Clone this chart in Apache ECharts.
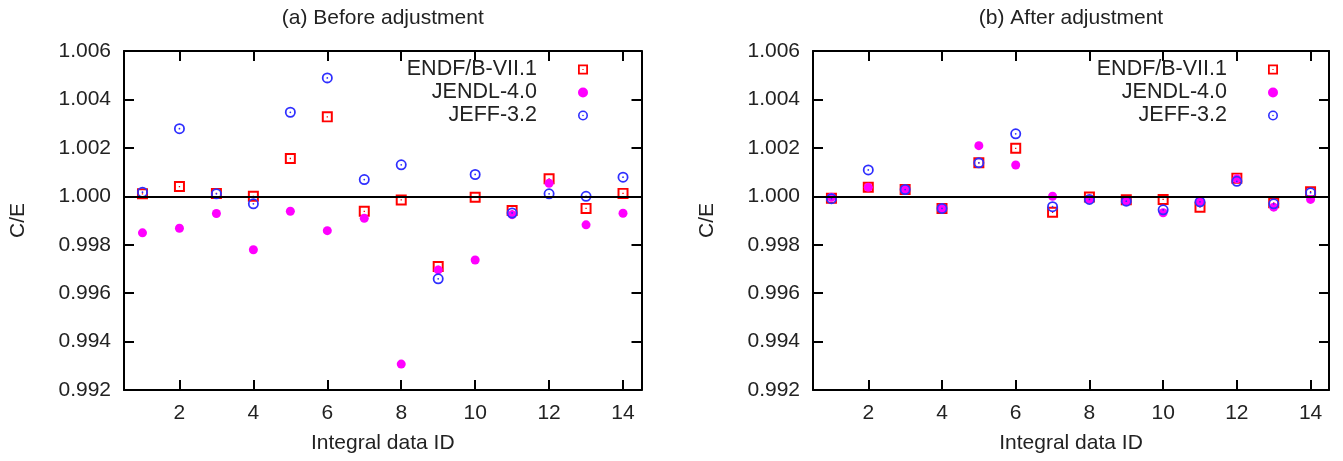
<!DOCTYPE html>
<html>
<head>
<meta charset="utf-8">
<title>C/E before and after adjustment</title>
<script src="https://cdn.jsdelivr.net/npm/echarts@6/dist/echarts.min.js"></script>
<style>
  html, body { margin: 0; padding: 0; background: #fff; }
  #main { width: 1343px; height: 461px; }
</style>
</head>
<body>
<div id="main"></div>
<script>
// integral data IDs
const ids = [1, 2, 3, 4, 5, 6, 7, 8, 9, 10, 11, 12, 13, 14]
const xTicks = [2, 4, 6, 8, 10, 12, 14]
const yTicks = [0.992, 0.994, 0.996, 0.998, 1.000, 1.002, 1.004, 1.006]
const libs = ['ENDF/B-VII.1', 'JENDL-4.0', 'JEFF-3.2']
const panelTitles = ['(a) Before adjustment', '(b) After adjustment']

// (a) before adjustment
const endfBefore = [1.0001, 1.0004, 1.00012, 1.0000, 1.00156, 1.00328, 0.99938, 0.99985, 0.99710, 0.99996, 0.99941, 1.00072, 0.99950, 1.00012]
const jendlBefore = [0.99849, 0.99868, 0.99929, 0.99779, 0.99938, 0.99858, 0.99909, 0.99307, 0.99696, 0.99737, 0.99924, 1.00054, 0.99882, 0.99930]
const jeffBefore = [1.00017, 1.00279, 1.0001, 0.99969, 1.00347, 1.00489, 1.00069, 1.0013, 0.99659, 1.0009, 0.99931, 1.0001, 1.0000, 1.00079]

// (b) after adjustment
const endfAfter = [0.99992, 1.00037, 1.00028, 0.99950, 1.00138, 1.00198, 0.99934, 0.99997, 0.99986, 0.99987, 0.99955, 1.00075, 0.99973, 1.00019]
const jendlAfter = [0.99996, 1.00037, 1.00028, 0.99950, 1.00209, 1.00129, 1.0000, 0.99988, 0.99979, 0.99932, 0.99978, 1.00072, 0.99955, 0.99987]
const jeffAfter = [0.99990, 1.00109, 1.00028, 0.99950, 1.00138, 1.00258, 0.99957, 0.99987, 0.99980, 0.99944, 0.99977, 1.00062, 0.99969, 1.00015]

const FONT = 'Liberation Sans, Arial, sans-serif'
const TXT = '#222'

// open square / ring with a dot in the middle (gnuplot style points)
const squareDot = 'path://M0,0L10,0L10,10L0,10Z M1.8,1.8L1.8,8.2L8.2,8.2L8.2,1.8Z M4.4,4.4L5.6,4.4L5.6,5.6L4.4,5.6Z'
const ringDot = 'path://M5,0A5,5,0,1,1,5,10A5,5,0,1,1,5,0Z M5,1.6A3.4,3.4,0,1,0,5,8.4A3.4,3.4,0,1,0,5,1.6Z M5,4.2A0.8,0.8,0,1,1,5,5.8A0.8,0.8,0,1,1,5,4.2Z'

const pts = vals => ids.map((id, i) => [id, vals[i]])

const grids = [
  { left: 124, width: 517.5, top: 51, height: 339 },
  { left: 813, width: 516, top: 51, height: 339 }
]

function xAxes(g) {
  const common = {
    type: 'value', gridIndex: g, min: 0.5, max: 14.5,
    axisLine: { show: true, onZero: false, lineStyle: { color: '#000', width: 2 } },
    axisTick: { inside: true, length: 10, customValues: xTicks, lineStyle: { color: '#000', width: 2 } },
    splitLine: { show: false }
  }
  return [
    Object.assign({}, common, {
      position: 'bottom',
      name: 'Integral data ID', nameLocation: 'middle', nameGap: 43,
      nameTextStyle: { fontSize: 21, color: TXT, fontFamily: FONT },
      axisLabel: { customValues: xTicks, fontSize: 21, color: TXT, fontFamily: FONT, margin: 13 }
    }),
    Object.assign({}, common, {
      position: 'top',
      name: panelTitles[g], nameLocation: 'middle', nameGap: 22,
      nameTextStyle: { fontSize: 21, color: TXT, fontFamily: FONT },
      axisLabel: { show: false }
    })
  ]
}

function yAxes(g) {
  const common = {
    type: 'value', gridIndex: g, min: 0.992, max: 1.006,
    axisLine: { show: true, onZero: false, lineStyle: { color: '#000', width: 2 } },
    axisTick: { inside: true, length: 10, customValues: yTicks, lineStyle: { color: '#000', width: 2 } },
    splitLine: { show: false }
  }
  return [
    Object.assign({}, common, {
      position: 'left',
      name: 'C/E', nameLocation: 'middle', nameGap: 95,
      nameTextStyle: { fontSize: 21, color: TXT, fontFamily: FONT },
      axisLabel: {
        customValues: yTicks, fontSize: 21, color: TXT, fontFamily: FONT, margin: 13,
        formatter: v => v.toFixed(3)
      }
    }),
    Object.assign({}, common, { position: 'right', axisLabel: { show: false } })
  ]
}

function panelSeries(g, endf, jendl, jeff) {
  const base = { type: 'scatter', xAxisIndex: 2 * g, yAxisIndex: 2 * g, animation: false }
  return [
    Object.assign({}, base, {
      name: libs[0], data: pts(endf), symbol: squareDot, symbolSize: 11,
      itemStyle: { color: '#ff0000', opacity: 1 },
      markLine: {
        silent: true, symbol: ['none', 'none'], label: { show: false },
        lineStyle: { color: '#000', width: 2, type: 'solid' },
        data: [{ yAxis: 1 }]
      }
    }),
    Object.assign({}, base, {
      name: libs[1], data: pts(jendl), symbol: 'circle', symbolSize: 9,
      itemStyle: { color: '#ff00ff', opacity: 1 }
    }),
    Object.assign({}, base, {
      name: libs[2], data: pts(jeff), symbol: ringDot, symbolSize: 11,
      itemStyle: { color: '#2f2fff', opacity: 1 }
    })
  ]
}

function legend(right) {
  return {
    data: libs, orient: 'vertical', align: 'right', right: right, top: 58,
    padding: 0, itemGap: 0, itemWidth: 82, itemHeight: 10,
    selectedMode: false,
    textStyle: { fontSize: 21.5, color: TXT, fontFamily: FONT, lineHeight: 23 }
  }
}

const chart = echarts.init(document.getElementById('main'), null, { renderer: 'canvas' })
chart.setOption({
  backgroundColor: '#fff',
  animation: false,
  grid: grids,
  xAxis: xAxes(0).concat(xAxes(1)),
  yAxis: yAxes(0).concat(yAxes(1)),
  legend: [legend(755), legend(65)],
  series: panelSeries(0, endfBefore, jendlBefore, jeffBefore)
    .concat(panelSeries(1, endfAfter, jendlAfter, jeffAfter))
})
</script>
</body>
</html>
